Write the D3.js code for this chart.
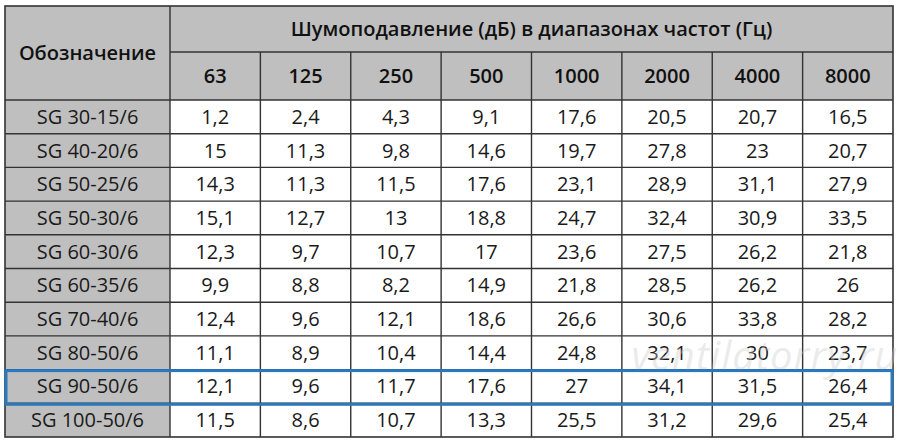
<!DOCTYPE html>
<html>
<head>
<meta charset="utf-8">
<script src="https://cdn.jsdelivr.net/npm/d3@7"></script>
<style>
  body { margin: 0; background: #fff; }
  text { font-family: "Open Sans", "Noto Sans", sans-serif; }
</style>
</head>
<body>
<script>
var width = 900,
    height = 445;

var freqs = ["63", "125", "250", "500", "1000", "2000", "4000", "8000"];
var models = ["SG 30-15/6", "SG 40-20/6", "SG 50-25/6", "SG 50-30/6", "SG 60-30/6",
              "SG 60-35/6", "SG 70-40/6", "SG 80-50/6", "SG 90-50/6", "SG 100-50/6"];
var values = [
  ["1,2", "2,4", "4,3", "9,1", "17,6", "20,5", "20,7", "16,5"],
  ["15", "11,3", "9,8", "14,6", "19,7", "27,8", "23", "20,7"],
  ["14,3", "11,3", "11,5", "17,6", "23,1", "28,9", "31,1", "27,9"],
  ["15,1", "12,7", "13", "18,8", "24,7", "32,4", "30,9", "33,5"],
  ["12,3", "9,7", "10,7", "17", "23,6", "27,5", "26,2", "21,8"],
  ["9,9", "8,8", "8,2", "14,9", "21,8", "28,5", "26,2", "26"],
  ["12,4", "9,6", "12,1", "18,6", "26,6", "30,6", "33,8", "28,2"],
  ["11,1", "8,9", "10,4", "14,4", "24,8", "32,1", "30", "23,7"],
  ["12,1", "9,6", "11,7", "17,6", "27", "34,1", "31,5", "26,4"],
  ["11,5", "8,6", "10,7", "13,3", "25,5", "31,2", "29,6", "25,4"]
];
var titleFirst = "Обозначение";
var titleGroup = "Шумоподавление (дБ) в диапазонах частот (Гц)";
var highlighted = "SG 90-50/6";

// table frame (note: "top" is taken by window.top, so use tbl* names)
var tblLeft = 5, tblRight = 893, tblTop = 6, head1 = 52, head2 = 100, tblBottom = 437, firstCol = 170;
var grey = "#bfbfbf", line = "#333";

var svg = d3.select("body").append("svg")
  .attr("width", width)
  .attr("height", height);

var x = d3.scaleBand().domain(freqs).range([firstCol, tblRight]);
var y = d3.scaleBand().domain(models).range([head2, tblBottom]);

// header background
svg.append("rect")
  .attr("x", tblLeft).attr("y", tblTop)
  .attr("width", tblRight - tblLeft).attr("height", head2 - tblTop)
  .attr("fill", grey);

// first column background
svg.append("rect")
  .attr("x", tblLeft).attr("y", head2)
  .attr("width", firstCol - tblLeft).attr("height", tblBottom - head2)
  .attr("fill", grey);

// grid lines
var grid = svg.append("g").attr("stroke", line).attr("stroke-width", 1.4);
grid.append("line").attr("x1", firstCol).attr("x2", tblRight).attr("y1", head1).attr("y2", head1);
grid.selectAll("line.h")
  .data(models)
  .enter().append("line")
  .attr("class", "h")
  .attr("x1", tblLeft).attr("x2", tblRight)
  .attr("y1", d => y(d)).attr("y2", d => y(d));
grid.selectAll("line.v")
  .data(freqs.slice(1))
  .enter().append("line")
  .attr("class", "v")
  .attr("x1", d => x(d)).attr("x2", d => x(d))
  .attr("y1", head1).attr("y2", tblBottom);
grid.append("line").attr("x1", firstCol).attr("x2", firstCol).attr("y1", tblTop).attr("y2", tblBottom);
svg.append("rect")
  .attr("x", tblLeft).attr("y", tblTop)
  .attr("width", tblRight - tblLeft).attr("height", tblBottom - tblTop)
  .attr("fill", "none").attr("stroke", line).attr("stroke-width", 1.6);

// header texts
svg.append("text")
  .attr("x", (tblLeft + firstCol) / 2).attr("y", (tblTop + head2) / 2 + 7)
  .attr("text-anchor", "middle")
  .attr("font-size", 20).attr("font-weight", 600)
  .attr("fill", "#111")
  .text(titleFirst);
svg.append("text")
  .attr("x", (firstCol + tblRight) / 2).attr("y", (tblTop + head1) / 2 + 7)
  .attr("text-anchor", "middle")
  .attr("font-size", 20).attr("font-weight", 600)
  .attr("fill", "#111")
  .text(titleGroup);
svg.selectAll("text.freq")
  .data(freqs)
  .enter().append("text")
  .attr("class", "freq")
  .attr("x", d => x(d) + x.bandwidth() / 2)
  .attr("y", (head1 + head2) / 2 + 7)
  .attr("text-anchor", "middle")
  .attr("font-size", 20).attr("font-weight", 600)
  .attr("fill", "#111")
  .text(d => d);

// row labels
svg.selectAll("text.model")
  .data(models)
  .enter().append("text")
  .attr("class", "model")
  .attr("x", (tblLeft + firstCol) / 2)
  .attr("y", d => y(d) + y.bandwidth() / 2 + 7)
  .attr("text-anchor", "middle")
  .attr("font-size", 20).attr("fill", "#1a1a1a")
  .text(d => d);

// values
var cells = [];
values.forEach(function(row, i) {
  row.forEach(function(v, j) {
    cells.push({ model: models[i], freq: freqs[j], v: v });
  });
});
svg.selectAll("text.val")
  .data(cells)
  .enter().append("text")
  .attr("class", "val")
  .attr("x", d => x(d.freq) + x.bandwidth() / 2)
  .attr("y", d => y(d.model) + y.bandwidth() / 2 + 7)
  .attr("text-anchor", "middle")
  .attr("font-size", 20).attr("fill", "#1a1a1a")
  .text(d => d.v);

// watermark
svg.append("text")
  .attr("x", 765).attr("y", 370)
  .attr("text-anchor", "middle")
  .attr("font-size", 40).attr("font-style", "italic")
  .attr("fill", "#cccccc").attr("fill-opacity", 0.4)
  .attr("letter-spacing", 1)
  .text("ventilatorry.ru");

// highlighted row
svg.append("rect")
  .attr("x", tblLeft + 1).attr("y", y(highlighted) + 1)
  .attr("width", tblRight - tblLeft - 2).attr("height", y.bandwidth())
  .attr("fill", "none")
  .attr("stroke", "#2a78c0").attr("stroke-width", 3);
</script>
</body>
</html>
